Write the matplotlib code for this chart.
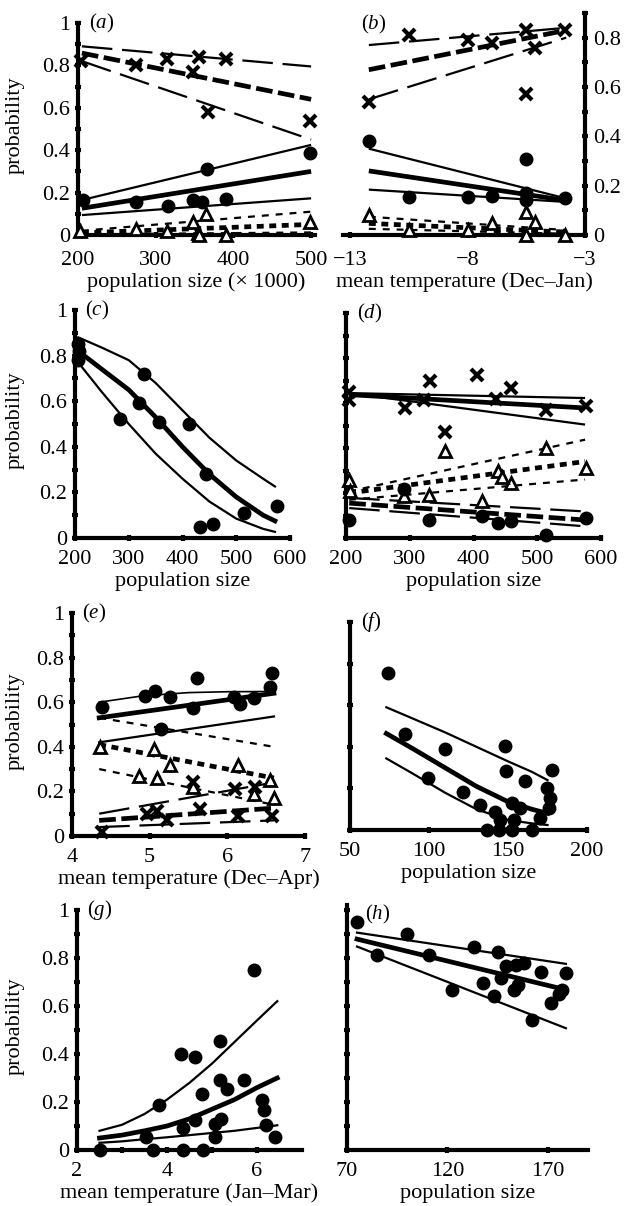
import matplotlib
matplotlib.use('Agg')
import matplotlib.pyplot as plt
from matplotlib.ticker import MultipleLocator, FixedLocator, NullFormatter

plt.rcParams['font.family'] = ['Liberation Serif', 'DejaVu Serif']
plt.rcParams['mathtext.fontset'] = 'custom'
plt.rcParams['mathtext.it'] = 'Liberation Serif:italic'
plt.rcParams['mathtext.rm'] = 'Liberation Serif'
plt.rcParams['lines.scale_dashes'] = False
plt.rcParams['axes.unicode_minus'] = True

# ---------------- data ----------------
# panel (a)
a_x_cross = [204, 275, 314, 348, 356, 367, 391, 498]
a_y_cross = [0.82, 0.80, 0.83, 0.77, 0.84, 0.58, 0.83, 0.54]
a_x_dot = [206, 275, 316, 348, 359, 366, 391, 498]
a_y_dot = [0.165, 0.157, 0.137, 0.165, 0.157, 0.31, 0.168, 0.386]
a_x_tri = [202, 275, 314, 348, 354, 365, 356, 391, 498]
a_y_tri = [0.02, 0.03, 0.02, 0.06, 0.01, 0.10, 0.0, 0.0, 0.06]
a_line_x = [205, 500]
a_cross_hi = [0.89, 0.795]
a_cross_mid = [0.858, 0.64]
a_cross_lo = [0.82, 0.45]
a_dot_hi = [0.165, 0.425]
a_dot_mid = [0.126, 0.30]
a_dot_lo = [0.094, 0.173]
a_tri_hi = [0.02, 0.11]
a_tri_mid = [0.01, 0.05]
a_tri_lo = [0.003, 0.012]

# panel (b)
b_x_cross = [-12.2, -10.5, -7.96, -6.97, -5.5, -5.14, -5.5, -3.87]
b_y_cross = [0.54, 0.81, 0.79, 0.78, 0.83, 0.76, 0.57, 0.83]
b_x_dot = [-12.2, -10.5, -7.96, -6.97, -5.5, -5.5, -5.5, -3.87]
b_y_dot = [0.38, 0.155, 0.155, 0.16, 0.31, 0.17, 0.14, 0.148]
b_x_tri = [-12.2, -10.5, -7.96, -6.97, -5.5, -5.14, -5.5, -3.87]
b_y_tri = [0.08, 0.02, 0.02, 0.05, 0.094, 0.054, 0.0, 0.0]
b_line_x = [-12.2, -3.8]
b_cross_hi = [0.77, 0.84]
b_cross_mid = [0.67, 0.83]
b_cross_lo = [0.55, 0.80]
b_dot_hi = [0.35, 0.148]
b_dot_mid = [0.26, 0.14]
b_dot_lo = [0.184, 0.134]
b_tri_hi = [0.074, 0.02]
b_tri_mid = [0.047, 0.012]
b_tri_lo = [0.025, 0.005]

# panel (c)
c_x_dot = [206, 206, 208, 284, 328, 319, 356, 412, 444, 433, 456, 515, 576]
c_y_dot = [0.85, 0.78, 0.82, 0.52, 0.72, 0.59, 0.51, 0.50, 0.28, 0.05, 0.06, 0.11, 0.14]
c_line_x = [206, 250, 300, 350, 400, 450, 500, 550, 572]
c_hi = [0.88, 0.835, 0.78, 0.68, 0.56, 0.44, 0.34, 0.26, 0.226]
c_mid = [0.82, 0.74, 0.65, 0.53, 0.40, 0.28, 0.18, 0.10, 0.075]
c_lo = [0.77, 0.64, 0.50, 0.37, 0.26, 0.16, 0.085, 0.04, 0.027]

# panel (d)
d_x_cross = [205, 205, 293, 322, 332, 356, 406, 435, 459, 514, 577]
d_y_cross = [0.65, 0.615, 0.58, 0.615, 0.70, 0.47, 0.726, 0.62, 0.667, 0.57, 0.585]
d_x_tri = [205, 207, 291, 330, 356, 414, 438, 459, 445, 514, 577]
d_y_tri = [0.26, 0.21, 0.185, 0.19, 0.385, 0.163, 0.30, 0.245, 0.27, 0.40, 0.31]
d_x_dot = [205, 291, 330, 414, 438, 459, 514, 577]
d_y_dot = [0.08, 0.22, 0.08, 0.096, 0.067, 0.074, 0.015, 0.089]
d_line_x = [205, 575]
d_cross_hi = [0.644, 0.622]
d_cross_mid = [0.637, 0.578]
d_cross_lo = [0.644, 0.504]
d_tri_hi = [0.207, 0.437]
d_tri_mid = [0.20, 0.34]
d_tri_lo = [0.17, 0.26]
d_dot_hi = [0.178, 0.118]
d_dot_mid = [0.155, 0.08]
d_dot_lo = [0.133, 0.052]

# panel (e)
e_x_dot = [4.39, 4.94, 5.07, 5.26, 5.61, 5.56, 5.14, 6.08, 6.16, 6.34, 6.55, 6.58]
e_y_dot = [0.58, 0.63, 0.65, 0.625, 0.71, 0.573, 0.48, 0.625, 0.59, 0.62, 0.67, 0.73]
e_x_tri = [4.36, 4.86, 5.05, 5.09, 5.26, 5.56, 6.14, 6.34, 6.55, 6.6]
e_y_tri = [0.40, 0.27, 0.39, 0.26, 0.32, 0.22, 0.32, 0.19, 0.25, 0.17]
e_x_cross = [4.39, 5.09, 5.22, 5.56, 5.65, 6.14, 6.1, 6.36, 6.57, 4.97]
e_y_cross = [0.02, 0.11, 0.07, 0.24, 0.12, 0.09, 0.21, 0.22, 0.09, 0.10]
e_line_x = [4.35, 6.6]
e_dot_hi_x = [4.35, 4.9, 5.5, 6.0, 6.6]
e_dot_hi = [0.60, 0.628, 0.643, 0.647, 0.648]
e_dot_mid = [0.53, 0.64]
e_dot_lo = [0.42, 0.536]
e_tri_hi = [0.53, 0.40]
e_tri_mid = [0.41, 0.26]
e_tri_lo = [0.30, 0.14]
e_cross_hi = [0.10, 0.24]
e_cross_mid = [0.07, 0.125]
e_cross_lo = [0.04, 0.07]

# panel (f)
f_x_dot = [74.3, 84.9, 110.2, 99.6, 121.8, 132.4, 148.2, 148.8, 160.9, 141.9, 145,
           152.5, 157.8, 153.5, 136.6, 144, 152.5, 165.2, 177.8, 174.7, 176.8, 175.7, 170.4]
f_y_dot = [0.755, 0.46, 0.39, 0.25, 0.184, 0.12, 0.405, 0.283, 0.237, 0.088, 0.048,
           0.128, 0.104, 0.048, 0.0, 0.0, 0.0, 0.0, 0.288, 0.2, 0.152, 0.104, 0.056]
f_line_x = [73, 90, 110, 130, 150, 165, 175]
f_hi = [0.59, 0.535, 0.47, 0.40, 0.33, 0.28, 0.24]
f_mid = [0.464, 0.39, 0.30, 0.21, 0.136, 0.10, 0.08]
f_lo = [0.344, 0.27, 0.18, 0.10, 0.048, 0.032, 0.024]

# panel (g)
g_x_dot = [2.52, 3.53, 3.83, 3.68, 4.32, 4.62, 4.36, 4.36, 4.80, 4.62, 4.77, 5.07, 5.07,
           5.21, 5.18, 5.18, 5.33, 5.70, 5.93, 6.11, 6.15, 6.19, 6.41]
g_y_dot = [0.0, 0.055, 0.186, 0.0, 0.40, 0.386, 0.09, 0.0, 0.0, 0.124, 0.234, 0.055, 0.11,
           0.13, 0.455, 0.29, 0.255, 0.29, 0.75, 0.207, 0.166, 0.103, 0.055]
g_line_x = [2.5, 3.0, 3.5, 4.0, 4.5, 5.0, 5.5, 6.0, 6.45]
g_hi = [0.08, 0.105, 0.15, 0.21, 0.28, 0.36, 0.45, 0.54, 0.62]
g_mid = [0.05, 0.062, 0.08, 0.10, 0.13, 0.17, 0.21, 0.26, 0.30]
g_lo = [0.03, 0.036, 0.045, 0.053, 0.062, 0.071, 0.08, 0.092, 0.103]

# panel (h)
h_x_dot = [75.1, 85.1, 100, 110.9, 122.5, 133.3, 137.5, 143.3, 145, 149.1, 146.6, 153.2,
           154.9, 154, 158.1, 162.3, 166.5, 171.5, 175.6, 177.3, 179]
h_y_dot = [0.951, 0.81, 0.90, 0.81, 0.667, 0.844, 0.694, 0.64, 0.826, 0.764, 0.715, 0.667,
           0.687, 0.771, 0.778, 0.54, 0.743, 0.61, 0.65, 0.667, 0.736]
h_line_x = [75, 179]
h_hi = [0.905, 0.775]
h_mid = [0.878, 0.667]
h_lo = [0.847, 0.507]

# ---------------- figure ----------------
W, H = 626, 1206
fig = plt.figure(figsize=(W / 100, H / 100), dpi=100)

FS = 16
THIN = 1.6
THICK = 3.4
LONG_THIN = (22, 7)
LONG_THICK = (12, 4)
SHORT_THIN = (5, 5)
SHORT_THICK = (5, 4)


def make_ax(left, right, top, bottom, xlim, ylim, side='left'):
    ax = fig.add_axes([left / W, 1 - bottom / H, (right - left) / W, (bottom - top) / H])
    ax.set_xlim(*xlim)
    ax.set_ylim(*ylim)
    for s in ['top', 'right', 'left', 'bottom']:
        ax.spines[s].set_visible(False)
    ax.spines['bottom'].set_visible(True)
    ax.spines[side].set_visible(True)
    ax.spines['bottom'].set_linewidth(3)
    ax.spines[side].set_linewidth(3)
    ax.spines['bottom'].set_capstyle('projecting')
    ax.spines[side].set_capstyle('projecting')
    if side == 'right':
        ax.yaxis.tick_right()
    ax.tick_params(which='both', direction='inout', length=5, width=3, labelsize=FS, pad=3)
    ax.tick_params(axis='x', pad=6)
    ax.set_facecolor('none')
    return ax


def lines(ax, x, ys, style):
    hi, mid, lo = ys
    if style == 'solid':
        for y, lw in ((hi, THIN), (mid, THICK), (lo, THIN)):
            ax.plot(x, y, color='black', lw=lw, solid_capstyle='butt')
    else:
        dt, dk = (LONG_THIN, LONG_THICK) if style == 'long' else (SHORT_THIN, SHORT_THICK)
        for y, lw, d in ((hi, THIN, dt), (mid, THICK, dk), (lo, THIN, dt)):
            ax.plot(x, y, color='black', lw=lw, dashes=d, dash_capstyle='butt')


def curves(ax, x, hi, mid, lo):
    ax.plot(x, hi, color='black', lw=THIN, solid_joinstyle='round')
    ax.plot(x, mid, color='black', lw=THICK, solid_joinstyle='round')
    ax.plot(x, lo, color='black', lw=THIN, solid_joinstyle='round')


def dots(ax, x, y):
    ax.plot(x, y, 'o', color='black', ms=9, clip_on=False, zorder=5)


def crosses(ax, x, y):
    ax.plot(x, y, 'x', color='black', ms=8, mew=3, clip_on=False, zorder=5)


def tris(ax, x, y):
    ax.plot(x, y, '^', mfc='white', mec='black', ms=8, mew=2, clip_on=False, zorder=5)


def panel_label(ax, letter, yfrac=1.0, xfrac=0.045):
    ax.text(xfrac, yfrac, r'($\mathit{' + letter + r'}$)', transform=ax.transAxes,
            fontsize=15, ha='left', va='center')


def prob_ticks(ax, labels=True, major=0.2, minor=0.1):
    ax.yaxis.set_major_locator(MultipleLocator(major))
    if minor:
        ax.yaxis.set_minor_locator(MultipleLocator(minor))
    if labels:
        ax.yaxis.set_major_formatter(plt.FuncFormatter(lambda v, p: '%g' % round(v, 2)))
    else:
        ax.yaxis.set_major_formatter(NullFormatter())


def ylabel(ax):
    pos = ax.get_position()
    fig.text(15 / W, pos.y0 + pos.height / 2 + 0.003, 'probability', rotation=90,
             ha='center', va='center', fontsize=FS)


# (a)
ax = make_ax(78, 315, 23, 235, (200, 505), (0, 1))
lines(ax, a_line_x, (a_cross_hi, a_cross_mid, a_cross_lo), 'long')
lines(ax, a_line_x, (a_dot_hi, a_dot_mid, a_dot_lo), 'solid')
lines(ax, a_line_x, (a_tri_hi, a_tri_mid, a_tri_lo), 'short')
crosses(ax, a_x_cross, a_y_cross)
dots(ax, a_x_dot, a_y_dot)
tris(ax, a_x_tri, a_y_tri)
ax.set_xticks([200, 300, 400, 500])
prob_ticks(ax)
ax.tick_params(axis='x', pad=9)
ax.set_xlabel('population size (× 1000)', fontsize=FS, labelpad=2)
panel_label(ax, 'a')
ylabel(ax)

# (b)
ax = make_ax(343, 585, 13, 235, (-13.3, -3), (0, 0.9), side='right')
lines(ax, b_line_x, (b_cross_hi, b_cross_mid, b_cross_lo), 'long')
lines(ax, b_line_x, (b_dot_hi, b_dot_mid, b_dot_lo), 'solid')
lines(ax, b_line_x, (b_tri_hi, b_tri_mid, b_tri_lo), 'short')
crosses(ax, b_x_cross, b_y_cross)
dots(ax, b_x_dot, b_y_dot)
tris(ax, b_x_tri, b_y_tri)
ax.set_xticks([-13, -8, -3])
ax.set_xticklabels(['−13', '−8', '−3'])
prob_ticks(ax)
ax.tick_params(axis='x', pad=9)
ax.set_xlabel('mean temperature (Dec–Jan)', fontsize=FS, labelpad=2)
panel_label(ax, 'b', yfrac=0.948, xfrac=0.075)

# (c)
ax = make_ax(75, 290, 310, 538, (200, 600), (0, 1))
curves(ax, c_line_x, c_hi, c_mid, c_lo)
dots(ax, c_x_dot, c_y_dot)
ax.set_xticks([200, 300, 400, 500, 600])
prob_ticks(ax)
ax.set_xlabel('population size', fontsize=FS, labelpad=2)
panel_label(ax, 'c')
ylabel(ax)

# (d)
ax = make_ax(346, 601, 313, 538, (200, 600), (0, 1))
lines(ax, d_line_x, (d_cross_hi, d_cross_mid, d_cross_lo), 'solid')
lines(ax, d_line_x, (d_tri_hi, d_tri_mid, d_tri_lo), 'short')
lines(ax, d_line_x, (d_dot_hi, d_dot_mid, d_dot_lo), 'long')
crosses(ax, d_x_cross, d_y_cross)
tris(ax, d_x_tri, d_y_tri)
dots(ax, d_x_dot, d_y_dot)
ax.set_xticks([200, 300, 400, 500, 600])
prob_ticks(ax, labels=False, major=0.1, minor=None)
ax.set_xlabel('population size', fontsize=FS, labelpad=2)
panel_label(ax, 'd')

# (e)
ax = make_ax(72, 305, 613, 836, (4, 7), (0, 1))
ax.plot(e_dot_hi_x, e_dot_hi, color='black', lw=1.2)
ax.plot(e_line_x, e_dot_mid, color='black', lw=THICK)
ax.plot(e_line_x, e_dot_lo, color='black', lw=THIN)
lines(ax, e_line_x, (e_tri_hi, e_tri_mid, e_tri_lo), 'short')
lines(ax, e_line_x, (e_cross_hi, e_cross_mid, e_cross_lo), 'long')
dots(ax, e_x_dot, e_y_dot)
tris(ax, e_x_tri, e_y_tri)
crosses(ax, e_x_cross, e_y_cross)
ax.set_xticks([4, 5, 6, 7])
prob_ticks(ax)
ax.set_xlabel('mean temperature (Dec–Apr)', fontsize=FS, labelpad=2)
panel_label(ax, 'e')
ylabel(ax)

# (f)
ax = make_ax(350, 587, 622, 830, (50, 200), (0, 1))
curves(ax, f_line_x, f_hi, f_mid, f_lo)
dots(ax, f_x_dot, f_y_dot)
ax.set_xticks([50, 100, 150, 200])
prob_ticks(ax, labels=False, major=0.2, minor=None)
ax.set_xlabel('population size', fontsize=FS, labelpad=2)
panel_label(ax, 'f')

# (g)
ax = make_ax(77, 302, 910, 1150, (2, 7), (0, 1))
curves(ax, g_line_x, g_hi, g_mid, g_lo)
dots(ax, g_x_dot, g_y_dot)
ax.set_xticks([2, 4, 6])
ax.xaxis.set_minor_locator(FixedLocator([3, 5]))
prob_ticks(ax)
ax.set_xlabel('mean temperature (Jan–Mar)', fontsize=FS, labelpad=2)
panel_label(ax, 'g')
ylabel(ax)

# (h)
ax = make_ax(347, 588, 905, 1150, (70, 190), (0, 1.02))
curves(ax, h_line_x, h_hi, h_mid, h_lo)
dots(ax, h_x_dot, h_y_dot)
ax.set_xticks([70, 120, 170])
prob_ticks(ax, labels=False, major=0.1, minor=None)
ax.set_xlabel('population size', fontsize=FS, labelpad=2)
panel_label(ax, 'h', yfrac=0.96, xfrac=0.075)

fig.savefig('out.png', dpi=100)
